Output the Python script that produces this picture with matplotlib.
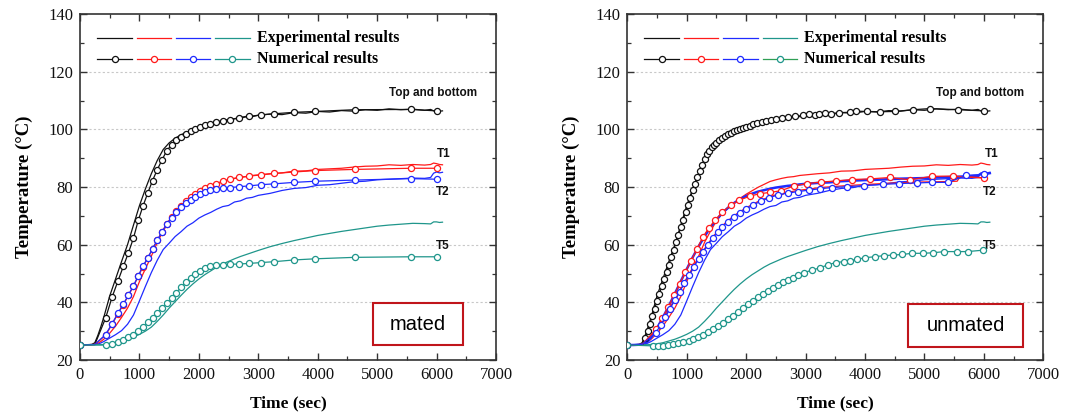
import matplotlib
matplotlib.use("Agg")
import matplotlib.pyplot as plt
from matplotlib.lines import Line2D
from matplotlib.patches import Rectangle
from matplotlib.ticker import MultipleLocator

# ---------------- measured temperatures (shared experiments) ----------------
t_exp = [0, 100, 200, 250, 300, 350, 400, 450, 500, 600, 700, 800, 900, 1000,
         1100, 1200, 1300, 1400, 1500, 1600, 1700, 1800, 1900, 2000, 2100, 2200,
         2300, 2400, 2500, 2600, 2700, 2800, 2900, 3000, 3200, 3400, 3600, 3800,
         4000, 4200, 4400, 4600, 4800, 5000, 5200, 5400, 5600, 5800, 5900, 5950,
         6000, 6050, 6100]

top_exp = [25.3, 25.3, 25.4, 26.0, 28.5, 31.5, 34.8, 38.5, 42.2, 48.2, 54.2, 60.0,
           66.8, 73.5, 79.3, 84.6, 89.2, 93.0, 95.3, 96.9, 98.1, 99.1, 99.9, 100.6,
           101.3, 101.8, 102.5, 102.9, 103.4, 103.7, 104.1, 104.5, 104.4, 104.9,
           105.3, 105.1, 105.8, 105.6, 106.2, 106.0, 106.5, 106.3, 106.8, 106.6,
           107.1, 106.8, 107.0, 106.6, 106.9, 106.4, 106.6, 106.3, 106.4]

t1_exp = [25.3, 25.3, 25.3, 25.4, 25.8, 26.4, 27.2, 28.2, 29.3, 31.8, 34.8, 38.0,
          42.0, 47.2, 51.6, 56.0, 60.8, 64.7, 68.2, 70.8, 72.8, 74.5, 76.1, 77.5,
          78.7, 79.9, 80.9, 81.9, 82.5, 83.0, 83.4, 83.6, 84.0, 84.2, 84.6, 84.9,
          85.5, 85.6, 86.1, 86.3, 86.5, 86.9, 87.2, 87.3, 87.7, 87.5, 87.8, 87.6,
          87.8, 88.3, 88.1, 87.8, 87.7]

t2_exp = [25.3, 25.3, 25.3, 25.3, 25.5, 25.9, 26.4, 27.0, 27.6, 28.8, 30.2, 32.4,
          35.6, 40.5, 45.5, 50.3, 54.6, 58.3, 60.5, 62.8, 64.5, 66.4, 67.6, 69.2,
          70.3, 71.2, 72.3, 73.2, 73.6, 74.8, 75.2, 76.1, 76.4, 77.1, 77.8, 78.8,
          79.5, 79.8, 80.6, 80.8, 81.3, 81.8, 82.0, 82.5, 82.7, 82.9, 83.1, 83.0,
          83.3, 84.8, 85.2, 84.9, 85.1]

t5_exp = [25.3, 25.3, 25.3, 25.3, 25.3, 25.3, 25.4, 25.5, 25.6, 26.0, 26.6, 27.2,
          28.0, 28.9, 30.0, 31.4, 33.4, 35.6, 38.0, 40.2, 42.4, 44.5, 46.4, 48.1,
          49.6, 50.9, 52.2, 53.3, 54.2, 55.1, 55.9, 56.6, 57.3, 58.0, 59.3, 60.4,
          61.4, 62.3, 63.2, 63.9, 64.6, 65.2, 65.8, 66.4, 66.8, 67.1, 67.4, 67.3,
          67.2, 67.9, 67.9, 67.7, 67.8]

# second T2 record, shown with the unmated model
t2b_exp = [25.2, 25.2, 25.3, 25.5, 25.8, 26.6, 27.8, 29.3, 31.0, 34.8, 38.8, 43.0,
           47.3, 51.5, 55.6, 59.4, 62.9, 66.0, 68.7, 71.0, 72.9, 74.5, 75.8, 76.9,
           77.7, 78.4, 78.9, 79.4, 79.8, 80.1, 80.4, 80.6, 80.9, 81.1, 81.4, 81.6,
           82.0, 82.2, 82.4, 82.5, 82.7, 82.9, 83.0, 83.1, 83.3, 83.4, 83.6, 83.8,
           83.9, 84.6, 84.8, 84.6, 84.8]

# ---------------- numerical results: mated contact ----------------
t_num_m = [0, 250, 430, 540, 640, 730, 815, 900, 980, 1060, 1140, 1220, 1300, 1380,
           1460, 1540, 1620, 1700, 1780, 1860, 1940, 2020, 2100, 2190, 2290, 2400,
           2530, 2680, 2850, 3050, 3270, 3600, 3960, 4620, 5570, 6000]

top_num_m = [25.2, 25.4, 34.5, 41.8, 47.5, 52.5, 57.2, 62.3, 68.4, 73.4, 77.9, 82.2,
             86.0, 89.4, 92.6, 94.6, 96.2, 97.5, 98.5, 99.3, 100.1, 100.8, 101.4,
             101.9, 102.5, 103.0, 103.4, 103.9, 104.5, 105.0, 105.4, 105.9, 106.2,
             106.8, 106.9, 106.4]

t1_num_m = [25.2, 25.4, 28.6, 32.4, 36.1, 39.2, 42.4, 45.6, 49.0, 52.4, 55.3, 58.5,
            61.5, 64.5, 67.2, 69.6, 71.7, 73.5, 75.0, 76.4, 77.6, 78.7, 79.6, 80.4,
            81.2, 82.0, 82.7, 83.3, 83.8, 84.2, 84.7, 85.2, 85.7, 86.1, 86.5, 86.5]

t2_num_m = [25.2, 25.4, 28.8, 32.6, 36.3, 39.4, 42.6, 45.8, 49.2, 52.6, 55.4, 58.6,
            61.5, 64.5, 67.1, 69.4, 71.4, 73.0, 74.3, 75.4, 76.5, 77.5, 78.2, 78.8,
            79.2, 79.5, 79.8, 80.1, 80.4, 80.8, 81.1, 81.6, 82.0, 82.4, 82.9, 82.7]

t5_num_m = [25.2, 25.2, 25.2, 25.5, 26.1, 26.9, 27.9, 28.8, 30.1, 31.5, 33.1, 34.7,
            36.4, 38.0, 39.7, 41.4, 43.3, 45.2, 46.9, 48.5, 49.9, 51.0, 51.9, 52.5,
            52.9, 53.1, 53.2, 53.3, 53.5, 53.8, 54.1, 54.7, 55.1, 55.6, 55.8, 55.8]

# ---------------- numerical results: unmated contact ----------------
t_top_u = [0, 260, 300, 340, 380, 420, 460, 500, 540, 580, 620, 660, 700, 740, 780,
           820, 860, 900, 940, 980, 1020, 1060, 1100, 1140, 1180, 1220, 1260, 1300,
           1340, 1380, 1420, 1460, 1500, 1550, 1600, 1650, 1700, 1750, 1800, 1850,
           1900, 1950, 2000, 2060, 2120, 2190, 2260, 2340, 2420, 2510, 2600, 2700,
           2820, 2950, 3060, 3150, 3230, 3320, 3430, 3560, 3740, 3850, 4030, 4260,
           4500, 4810, 5090, 5570, 6000]
top_num_u = [25.2, 25.4, 27.5, 30.0, 32.6, 35.2, 37.8, 40.4, 43.0, 45.5, 48.0, 50.5,
             53.0, 55.6, 58.2, 60.8, 63.4, 66.0, 68.6, 71.2, 73.8, 76.3, 78.8, 81.2,
             83.5, 85.7, 87.8, 89.7, 91.3, 92.6, 93.7, 94.6, 95.4, 96.3, 97.1, 97.8,
             98.4, 98.9, 99.4, 99.8, 100.2, 100.6, 100.9, 101.3, 101.7, 102.1,
             102.5, 102.9, 103.3, 103.7, 104.0, 104.3, 104.5, 104.8, 105.2, 105.0,
             105.3, 105.6, 105.4, 105.8, 105.9, 106.3, 106.2, 106.1, 106.2, 106.8,
             107.2, 106.8, 106.4]

t_t1_u = [0, 250, 490, 590, 690, 790, 880, 975, 1075, 1170, 1270, 1370, 1480, 1600,
          1740, 1880, 2060, 2230, 2400, 2580, 2800, 3020, 3260, 3510, 3780, 4080,
          4420, 4760, 5120, 5480, 6000]
t1_num_u = [25.2, 25.4, 30.8, 34.5, 38.5, 42.5, 46.3, 50.5, 54.5, 58.5, 62.5, 65.8,
            68.5, 71.3, 73.7, 75.4, 76.8, 77.7, 78.1, 78.7, 80.3, 81.2, 81.7, 82.1,
            82.6, 82.8, 83.3, 82.5, 83.7, 83.8, 83.1]

t_t1b_u = [0, 250, 480, 640, 800, 960, 1120, 1280, 1440, 1600, 1790, 2000, 2250,
           2540, 2870, 3240, 3700, 4300, 4870, 5400, 5550, 5600, 6000]
t1b_num_u = [25.2, 25.4, 29.8, 35.3, 41.2, 47.0, 52.7, 58.0, 62.7, 66.6, 70.0, 72.8,
             75.5, 77.6, 78.8, 79.8, 80.5, 81.2, 81.7, 81.9, 82.0, 83.6, 83.2]

t_t2_u = [0, 250, 480, 560, 640, 720, 800, 880, 960, 1040, 1120, 1200, 1280, 1360,
          1440, 1520, 1600, 1690, 1790, 1890, 2000, 2120, 2250, 2390, 2540, 2700,
          2870, 3050, 3240, 3440, 3700, 3980, 4300, 4580, 4870, 5130, 5400, 5700,
          6000]
t2_num_u = [25.2, 25.4, 29.5, 32.0, 34.9, 37.8, 40.8, 43.7, 46.6, 49.5, 52.3, 55.0,
            57.6, 60.0, 62.3, 64.3, 66.2, 68.0, 69.6, 71.0, 72.4, 73.8, 75.1, 76.3,
            77.3, 77.9, 78.4, 78.9, 79.4, 79.8, 80.1, 80.5, 80.9, 81.2, 81.4, 81.6,
            81.6, 84.0, 84.4]

t_t5_u = [0, 440, 520, 600, 690, 775, 860, 940, 1030, 1110, 1195, 1280, 1360, 1450,
          1530, 1615, 1700, 1785, 1870, 1950, 2035, 2120, 2205, 2290, 2375, 2455,
          2540, 2625, 2710, 2795, 2880, 2970, 3116, 3246, 3377, 3507, 3638, 3742,
          3873, 4003, 4160, 4316, 4473, 4630, 4786, 4969, 5151, 5334, 5543, 5726,
          5990]
t5_num_u = [25.2, 24.9, 25.0, 25.0, 25.2, 25.4, 25.8, 26.1, 26.7, 27.3, 27.9, 28.7,
            29.6, 30.6, 31.8, 32.9, 34.1, 35.3, 36.8, 37.9, 39.3, 40.6, 41.7, 42.9,
            44.0, 45.1, 46.0, 46.9, 47.7, 48.6, 49.4, 50.3, 51.2, 52.0, 53.0, 53.8,
            54.1, 54.5, 54.9, 55.5, 55.8, 56.2, 56.4, 56.6, 57.0, 57.0, 57.2, 57.6,
            57.6, 57.6, 58.1]

x_ticks = [0, 1000, 2000, 3000, 4000, 5000, 6000, 7000]
y_ticks = [20, 40, 60, 80, 100, 120, 140]
curve_labels = ["Top and bottom", "T1", "T2", "T5"]
legend_texts = ["Experimental results", "Numerical results"]
panel_names = ["mated", "unmated"]

BLACK = "#111111"
RED = "#ff1a1a"
BLUE = "#1f2bff"
TEAL = "#1f968b"
BOX = "#c0151b"
SERIF = "Liberation Serif"
SANS = "Liberation Sans"

plt.rcParams["font.family"] = SERIF

fig = plt.figure(figsize=(10.78, 4.18), dpi=100)
ax_m = fig.add_axes([80 / 1078, 58 / 418, 416 / 1078, 346 / 418])
ax_u = fig.add_axes([627.3 / 1078, 58 / 418, 416 / 1078, 346 / 418])


def skip_second(n):
    return [i for i in range(n) if i != 1]


def num_line(ax, t, y, color, hide_second=True, ms=4.4):
    mk = skip_second(len(t)) if hide_second else None
    ax.plot(t, y, color=color, lw=0.9, marker="o", ms=ms, mew=0.9,
            mfc="white", mec=color, markevery=mk, zorder=4)


def exp_line(ax, t, y, color, lw=0.9):
    ax.plot(t, y, color=color, lw=lw, zorder=3)


def style_axes(ax):
    ax.set_xlim(0, 7000)
    ax.set_ylim(20, 140)
    ax.set_xticks(x_ticks)
    ax.set_yticks(y_ticks)
    ax.xaxis.set_minor_locator(MultipleLocator(500))
    ax.yaxis.set_minor_locator(MultipleLocator(10))
    ax.tick_params(which="both", direction="in", top=True, right=True,
                   colors="#333333", labelcolor="#111111")
    ax.tick_params(which="major", length=5, width=1.0, labelsize=12, pad=5)
    ax.tick_params(which="minor", length=3, width=0.9)
    for s in ax.spines.values():
        s.set_color("#333333")
        s.set_linewidth(1.2)
    for g in [40, 60, 80, 100, 120]:
        ax.axhline(g, color="#c8c8c8", lw=0.8, ls=(0, (2, 2)), zorder=1)
    ax.set_xlabel("Time (sec)", fontsize=12.5, fontweight="bold", labelpad=9)
    ax.set_ylabel("Temperature (\u00b0C)", fontsize=13.5, fontweight="bold",
                  labelpad=11)


def legend_block(ax, num_colors):
    seg = [(0.041, 0.125), (0.137, 0.219), (0.231, 0.313), (0.325, 0.408)]
    exp_colors = [BLACK, RED, BLUE, TEAL]
    for (x0, x1), c in zip(seg, exp_colors):
        ax.add_line(Line2D([x0, x1], [0.931, 0.931], color=c, lw=0.9,
                           transform=ax.transAxes))
    for (x0, x1), (lc, mc) in zip(seg, num_colors):
        ax.add_line(Line2D([x0, x1], [0.870, 0.870], color=lc, lw=0.9,
                           transform=ax.transAxes))
        ax.add_line(Line2D([(x0 + x1) / 2], [0.870], color=mc, marker="o",
                           ms=4.4, mew=0.9, mfc="white", mec=mc, lw=0,
                           transform=ax.transAxes))
    ax.text(0.425, 0.931, legend_texts[0], transform=ax.transAxes,
            fontsize=11.5, fontweight="bold", va="center", ha="left")
    ax.text(0.425, 0.870, legend_texts[1], transform=ax.transAxes,
            fontsize=11.5, fontweight="bold", va="center", ha="left")


def curve_tags(ax):
    kw = dict(family=SANS, fontsize=8.5, fontweight="bold", va="center", ha="left",
              color="#111111")
    ax.text(5200, 112.6, curve_labels[0], **kw)
    ax.text(6010, 91.4, curve_labels[1], **kw)
    ax.text(5980, 78.3, curve_labels[2], **kw)
    ax.text(5980, 59.4, curve_labels[3], **kw)


def name_box(ax, x0, x1, y0, y1, text):
    ax.add_patch(Rectangle((x0, y0), x1 - x0, y1 - y0, transform=ax.transAxes,
                           fill=False, ec=BOX, lw=1.5, zorder=6))
    ax.text((x0 + x1) / 2, (y0 + y1) / 2, text, transform=ax.transAxes,
            family=SANS, fontsize=14.5, ha="center", va="center", zorder=7)


# ---- mated panel ----
ax = ax_m
exp_line(ax, t_exp, top_exp, BLACK)
exp_line(ax, t_exp, t1_exp, RED)
exp_line(ax, t_exp, t2_exp, BLUE)
exp_line(ax, t_exp, t5_exp, TEAL)
num_line(ax, t_num_m, top_num_m, BLACK)
num_line(ax, t_num_m, t1_num_m, RED)
num_line(ax, t_num_m, t2_num_m, BLUE)
num_line(ax, t_num_m, t5_num_m, TEAL)
style_axes(ax)
legend_block(ax, [(BLACK, BLACK), (RED, RED), (BLUE, BLUE), (TEAL, TEAL)])
curve_tags(ax)
name_box(ax, 0.704, 0.921, 0.043, 0.165, panel_names[0])

# ---- unmated panel ----
ax = ax_u
exp_line(ax, t_exp, top_exp, BLACK)
exp_line(ax, t_exp, t1_exp, RED)
exp_line(ax, t_exp, t2_exp, BLUE)
exp_line(ax, t_exp, t2b_exp, BLUE, lw=1.8)
exp_line(ax, t_exp, t5_exp, TEAL)
exp_line(ax, t_t1b_u, t1b_num_u, RED)
num_line(ax, t_top_u, top_num_u, BLACK)
num_line(ax, t_t1_u, t1_num_u, RED)
num_line(ax, t_t2_u, t2_num_u, BLUE)
num_line(ax, t_t5_u, t5_num_u, TEAL, hide_second=False)
style_axes(ax)
legend_block(ax, [(BLACK, BLACK), (RED, RED), (BLUE, BLUE), ("#2f9f55", TEAL)])
curve_tags(ax)
name_box(ax, 0.675, 0.951, 0.038, 0.162, panel_names[1])

fig.savefig("out.png", dpi=100)
